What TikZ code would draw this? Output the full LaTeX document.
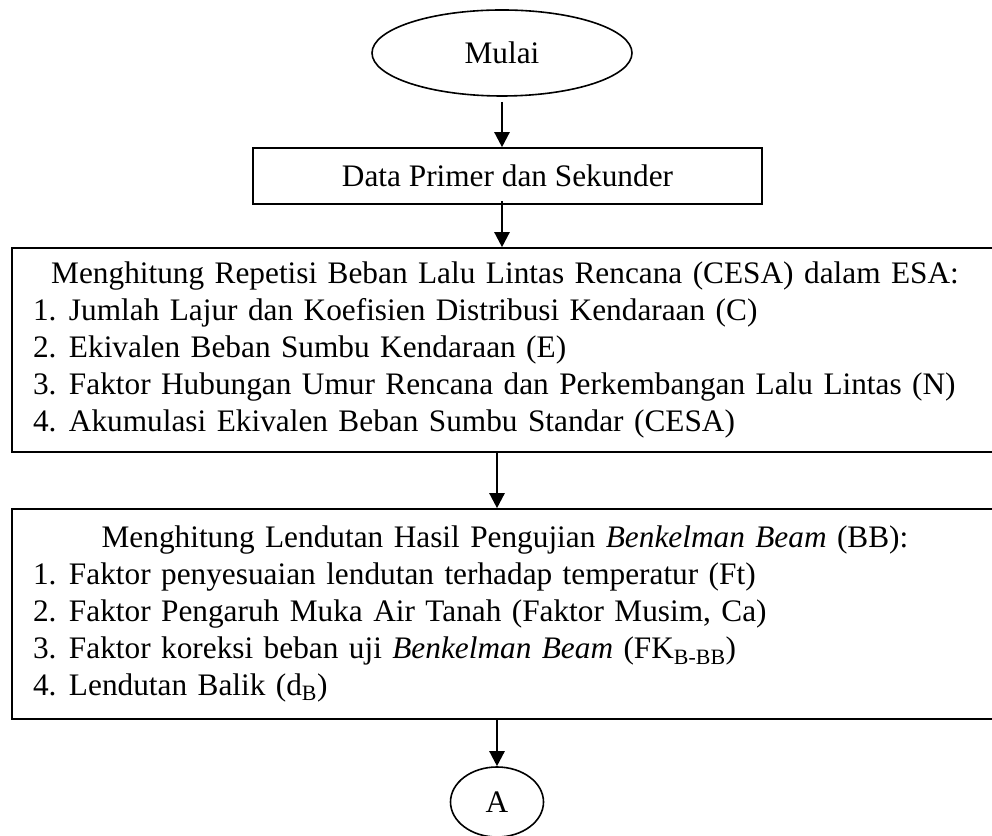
\documentclass[tikz,border=0pt]{standalone}
\usepackage{fontspec}
\setmainfont{Liberation Serif}
\usepackage{tikz}
\usetikzlibrary{shapes.geometric, arrows.meta, positioning, calc}

\begin{document}
\begin{tikzpicture}[
    x=1pt, y=1pt,
    font=\fontsize{31.3}{36.8}\selectfont,
    terminal/.style={ellipse, draw=black, line width=1.6pt, inner sep=0pt},
    databox/.style={rectangle, draw=black, line width=1.6pt, inner sep=0pt},
    listbox/.style={rectangle, draw=black, line width=1.6pt, inner sep=0pt,
                    text width=986pt, minimum width=986pt},
    flow/.style={-{Triangle[length=15pt, width=15pt]}, line width=2.4pt}
]
    \useasboundingbox (0,0) rectangle (992,835);

    % Start
    \node[terminal, minimum width=260pt, minimum height=86pt] (mulai) at (502,782) {Mulai};

    % Input data
    \node[databox, minimum width=509pt, minimum height=56pt] (data) at (507.5,659) {Data Primer dan Sekunder};

    % Traffic load (CESA)
    \node[listbox, minimum height=204pt] (cesa) at (505,485) {%
        \centering Menghitung Repetisi Beban Lalu Lintas Rencana (CESA) dalam ESA:\par
        \raggedright
        \hspace*{21pt}\makebox[36pt][l]{1.}Jumlah Lajur dan Koefisien Distribusi Kendaraan (C)\\
        \hspace*{21pt}\makebox[36pt][l]{2.}Ekivalen Beban Sumbu Kendaraan (E)\\
        \hspace*{21pt}\makebox[36pt][l]{3.}Faktor Hubungan Umur Rencana dan Perkembangan Lalu Lintas (N)\\
        \hspace*{21pt}\makebox[36pt][l]{4.}Akumulasi Ekivalen Beban Sumbu Standar (CESA)};

    % Deflection (Benkelman Beam)
    \node[listbox, minimum height=210pt] (bb) at (505,221) {%
        \centering Menghitung Lendutan Hasil Pengujian \textit{Benkelman Beam} (BB):\par
        \raggedright
        \hspace*{21pt}\makebox[36pt][l]{1.}Faktor penyesuaian lendutan terhadap temperatur (Ft)\\
        \hspace*{21pt}\makebox[36pt][l]{2.}Faktor Pengaruh Muka Air Tanah (Faktor Musim, Ca)\\
        \hspace*{21pt}\makebox[36pt][l]{3.}Faktor koreksi beban uji \textit{Benkelman Beam} (FK\textsubscript{B-BB})\\
        \hspace*{21pt}\makebox[36pt][l]{4.}Lendutan Balik (d\textsubscript{B})};

    % Connector
    \node[terminal, minimum width=93pt, minimum height=70pt] (konektor) at (497,33) {A};

    % Arrows
    \draw[flow, shorten <=5pt] (mulai) -- (mulai |- data.north);
    \draw[flow] ([yshift=4pt]data.south -| mulai) -- (mulai |- cesa.north);
    \draw[flow] (cesa.south -| konektor) -- (konektor |- bb.north);
    \draw[flow] (bb.south -| konektor) -- (konektor);
\end{tikzpicture}
\end{document}
